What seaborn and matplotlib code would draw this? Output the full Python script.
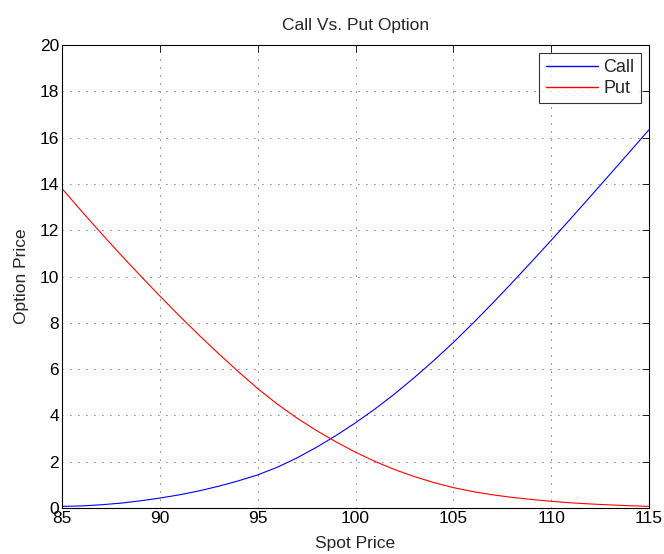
import numpy as np
import pandas as pd
import matplotlib
matplotlib.use("Agg")
import matplotlib.pyplot as plt
import seaborn as sns

# spot prices and option values
spot = [85, 86, 87, 88, 89, 90, 91, 92, 93, 94, 95, 96, 97, 98, 99, 100,
        101, 102, 103, 104, 105, 106, 107, 108, 109, 110, 111, 112, 113, 114, 115]
call_price = [0.07, 0.09, 0.14, 0.21, 0.31, 0.43, 0.57, 0.74, 0.94, 1.17, 1.43, 1.76,
              2.16, 2.62, 3.13, 3.68, 4.28, 4.93, 5.63, 6.37, 7.15, 7.98, 8.84, 9.73,
              10.64, 11.56, 12.50, 13.45, 14.41, 15.37, 16.34]
put_price = [13.80, 12.82, 11.87, 10.94, 10.04, 9.16, 8.30, 7.47, 6.67, 5.90, 5.16, 4.49,
             3.89, 3.35, 2.86, 2.41, 2.01, 1.66, 1.36, 1.10, 0.88, 0.71, 0.57, 0.46,
             0.37, 0.29, 0.225, 0.175, 0.135, 0.10, 0.07]

df = pd.DataFrame({
    "Spot Price": spot * 2,
    "Option Price": call_price + put_price,
    "Option": ["Call"] * len(spot) + ["Put"] * len(spot),
})

sns.set_style("white")
plt.rcParams["font.family"] = ["Liberation Sans", "DejaVu Sans"]

fig = plt.figure(figsize=(6.64, 5.54), dpi=100)
ax = fig.add_axes([0.0934, 0.083, 0.884, 0.8358])

sns.lineplot(data=df, x="Spot Price", y="Option Price", hue="Option",
             palette={"Call": "#0000ff", "Put": "#ff0000"}, linewidth=0.8, ax=ax)

ax.set_xlim(85, 115)
ax.set_ylim(0, 20)
ax.set_xticks(range(85, 116, 5))
ax.set_yticks(range(0, 21, 2))
ax.grid(True, linestyle=(0, (1, 8.6)), color="black", linewidth=0.6)
ax.tick_params(direction="in", length=5, width=0.6, top=True, right=True,
               labelsize=12.5, colors="black", pad=2)
for s in ax.spines.values():
    s.set_color("black")
    s.set_linewidth(0.8)

ax.set_title("Call Vs. Put Option", fontsize=12.5, pad=11)
ax.set_xlabel("Spot Price", fontsize=12.5, labelpad=7)
ax.set_ylabel("Option Price", fontsize=12.5, labelpad=8)

leg = ax.legend(loc="upper right", fontsize=13, frameon=True, fancybox=False,
                edgecolor="black", borderaxespad=0.45, handlelength=2.9,
                borderpad=0.35, labelspacing=0.2, handletextpad=0.3)
leg.get_frame().set_linewidth(0.8)
for h in leg.get_lines():
    h.set_linewidth(1.0)

fig.savefig("out.png", dpi=100)
